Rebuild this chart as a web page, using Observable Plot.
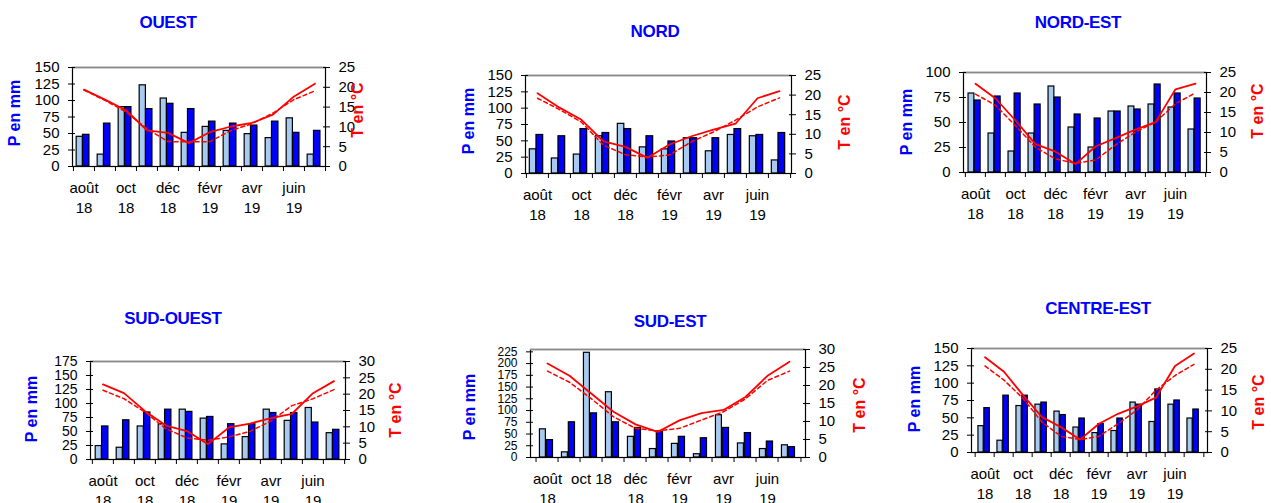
<!DOCTYPE html>
<html><head><meta charset="utf-8">
<script src="https://cdn.jsdelivr.net/npm/d3@7"></script>
<script src="https://cdn.jsdelivr.net/npm/@observablehq/plot@0.6"></script>
<style>
body{margin:0;background:#fff;}
#root{position:relative;width:1271px;height:503px;overflow:hidden;font-family:"Liberation Sans",Arial,sans-serif;background:#fff;}
.title{position:absolute;transform:translate(-50%,-50%);color:#0000ff;font-weight:bold;font-size:17px;white-space:nowrap;letter-spacing:-0.3px;line-height:1;}
.ylab{position:absolute;transform:translate(-50%,-50%) rotate(-90deg);font-weight:bold;font-size:16px;white-space:nowrap;line-height:1;}
svg{position:absolute;}
</style></head><body><div id="root"></div>
<script>
const months = ["août","sept","oct","nov","déc","janv","févr","mars","avr","mai","juin","juil"];
const tickLabels = ["août\n18","","oct\n18","","déc\n18","","févr\n19","","avr\n19","","juin\n19",""];
const tickLabelsSE = ["août\n18","","oct 18","","déc\n18","","févr\n19","","avr\n19","","juin\n19",""];

const ouestLight  = [45,18,90,123,103,51,60,54,49,43,73,18];
const ouestDark   = [48,65,90,87,95,87,68,65,62,68,51,54];
const ouestTSolid = [19.4,16.9,14.2,9.1,8.5,5.9,8.7,10.1,11.0,13.1,17.7,20.9];
const ouestTDash  = [19.3,16.7,13.8,9.5,6.3,6.2,6.3,9.1,10.8,13.5,16.9,19.1];

const nordLight  = [37,23,29,57,76,40,37,54,34,59,57,20];
const nordDark   = [59,57,68,62,68,57,49,54,54,68,59,62];
const nordTSolid = [20.5,16.8,13.7,8.2,6.8,4.0,7.4,9.5,11.2,12.7,19.2,21.0];
const nordTDash  = [19.2,16.3,13.1,7.2,4.8,4.2,4.7,8.1,10.6,13.6,17.0,19.3];

const nordEstLight  = [79,39,21,39,86,45,25,61,66,68,65,43];
const nordEstDark   = [72,76,79,68,75,58,54,61,63,88,79,74];
const nordEstTSolid = [22.2,18.5,13.0,7.1,5.2,2.1,6.5,8.6,10.7,12.6,20.8,22.2];
const nordEstTDash  = [19.6,16.8,11.7,6.3,3.4,2.3,3.1,6.9,10.1,12.6,17.2,19.9];

const sudOuestLight  = [24,21,59,63,89,73,27,40,89,69,92,47];
const sudOuestDark   = [59,70,84,89,85,76,63,63,83,83,66,53];
const sudOuestTSolid = [23.0,20.3,14.8,10.4,8.7,4.7,9.8,11.0,12.7,14.0,20.3,24.0];
const sudOuestTDash  = [21.2,18.6,14.5,9.4,6.6,5.9,6.9,8.6,11.8,16.5,18.6,21.4];

const sudEstLight  = [60,11,223,139,44,18,29,7,90,30,18,26];
const sudEstDark   = [37,75,94,75,63,55,44,41,63,52,34,22];
const sudEstTSolid = [26.1,22.7,17.7,12.7,9.2,7.1,10.3,12.3,13.2,16.8,22.7,26.6];
const sudEstTDash  = [24.0,20.9,16.3,11.3,8.1,7.4,8.1,10.4,12.7,16.3,21.4,24.0];

const centreEstLight  = [38,17,67,69,59,36,28,31,72,44,69,49];
const centreEstDark   = [64,82,82,72,54,49,41,49,69,91,75,62];
const centreEstTSolid = [22.9,19.4,13.8,8.5,6.1,3.1,6.9,9.3,11.1,13.2,20.8,23.8];
const centreEstTDash  = [20.8,17.4,13.0,7.3,3.9,3.1,3.9,6.9,10.2,15.0,18.5,21.2];

const pTicks150 = [0,25,50,75,100,125,150];
const pTicks100 = [0,25,50,75,100];
const pTicks175 = [0,25,50,75,100,125,150,175];
const pTicks225 = [0,25,50,75,100,125,150,175,200,225];
const tTicks25 = [0,5,10,15,20,25];
const tTicks30 = [0,5,10,15,20,25,30];

const panels = [
  {title:"OUEST", light:ouestLight, dark:ouestDark, ts:ouestTSolid, td:ouestTDash, pMax:150, pTicks:pTicks150, tMax:25, tTicks:tTicks25, labels:tickLabels, pFont:15,
   frame:{left:72,right:325,top:67,bottom:166}, titlePos:[168,22], pLab:[15,113], tLab:[358,110]},
  {title:"NORD", light:nordLight, dark:nordDark, ts:nordTSolid, td:nordTDash, pMax:150, pTicks:pTicks150, tMax:25, tTicks:tTicks25, labels:tickLabels, pFont:15,
   frame:{left:525,right:791,top:75,bottom:173}, titlePos:[655,31], pLab:[469,121], tLab:[845,122]},
  {title:"NORD-EST", light:nordEstLight, dark:nordEstDark, ts:nordEstTSolid, td:nordEstTDash, pMax:100, pTicks:pTicks100, tMax:25, tTicks:tTicks25, labels:tickLabels, pFont:15,
   frame:{left:963,right:1206,top:72,bottom:172}, titlePos:[1078,22], pLab:[907,122], tLab:[1258,111]},
  {title:"SUD-OUEST", light:sudOuestLight, dark:sudOuestDark, ts:sudOuestTSolid, td:sudOuestTDash, pMax:175, pTicks:pTicks175, tMax:30, tTicks:tTicks30, labels:tickLabels, pFont:14,
   frame:{left:90,right:345,top:361,bottom:459}, titlePos:[173,318], pLab:[32,409], tLab:[396,410]},
  {title:"SUD-EST", light:sudEstLight, dark:sudEstDark, ts:sudEstTSolid, td:sudEstTDash, pMax:230, pTicks:pTicks225, tMax:30, tTicks:tTicks30, labels:tickLabelsSE, pFont:12,
   frame:{left:530,right:805,top:349,bottom:457}, titlePos:[670,321], pLab:[470,407], tLab:[860,405]},
  {title:"CENTRE-EST", light:centreEstLight, dark:centreEstDark, ts:centreEstTSolid, td:centreEstTDash, pMax:150, pTicks:pTicks150, tMax:25, tTicks:tTicks25, labels:tickLabels, pFont:15,
   frame:{left:971,right:1207,top:348,bottom:452}, titlePos:[1098,308], pLab:[915,399], tLab:[1259,402]}
];

const root = document.getElementById("root");

function addText(cls, text, pos, color) {
  const d = document.createElement("div");
  d.className = cls;
  d.textContent = text;
  d.style.left = pos[0] + "px";
  d.style.top = pos[1] + "px";
  if (color) d.style.color = color;
  root.appendChild(d);
}

function drawPanel(cfg) {
  const mL = 50, mR = 50, mT = 8, mB = 50;
  const W = cfg.frame.right - cfg.frame.left;
  const H = cfg.frame.bottom - cfg.frame.top;
  const bw = W / months.length;
  const k = cfg.pMax / cfg.tMax;
  const rows = months.map((m, i) => ({month: m, light: cfg.light[i], dark: cfg.dark[i], ts: cfg.ts[i] * k, td: cfg.td[i] * k}));
  const labelled = months.filter((m, i) => cfg.labels[i] !== "");
  const fs = 15;
  const chart = Plot.plot({
    width: W + mL + mR,
    height: H + mT + mB,
    marginLeft: mL, marginRight: mR, marginTop: mT, marginBottom: mB,
    style: {fontFamily: '"Liberation Sans", Arial, sans-serif', fontSize: fs + "px", color: "#000", background: "transparent", overflow: "visible"},
    x: {type: "band", domain: months, padding: 0, label: null},
    y: {domain: [0, cfg.pMax], label: null},
    marks: [
      Plot.barY(rows, {x: "month", y: "light", fill: "#A6CAF0", stroke: "#000", strokeWidth: 1.2, insetLeft: 0.15 * bw, insetRight: 0.55 * bw}),
      Plot.barY(rows, {x: "month", y: "dark", fill: "#0000FF", stroke: "#000", strokeWidth: 1.2, insetLeft: 0.45 * bw, insetRight: 0.24 * bw}),
      Plot.line(rows, {x: "month", y: "td", stroke: "#FF0000", strokeWidth: 1.5, strokeDasharray: "4,3"}),
      Plot.line(rows, {x: "month", y: "ts", stroke: "#FF0000", strokeWidth: 1.8}),
      Plot.frame({stroke: "#000", strokeWidth: 1.2}),
      Plot.ruleY([cfg.pMax], {stroke: "#888", strokeWidth: 1.5}),
      Plot.axisY({anchor: "left", ticks: cfg.pTicks, tickSize: 4, tickPadding: 9, fontSize: cfg.pFont, label: null}),
      Plot.axisY({anchor: "left", ticks: cfg.pTicks, tickSize: 3, dx: 3, tickFormat: () => "", label: null}),
      Plot.axisY({anchor: "right", ticks: cfg.tTicks.map(t => t * k), tickSize: 4, tickPadding: 9, fontSize: fs, label: null, tickFormat: d => String(Math.round(d / k))}),
      Plot.axisY({anchor: "right", ticks: cfg.tTicks.map(t => t * k), tickSize: 3, dx: -3, tickFormat: () => "", label: null}),
      Plot.axisX({ticks: months, tickSize: 5, dx: -bw / 2, tickFormat: () => "", label: null}),
      Plot.axisX({ticks: [months[months.length - 1]], tickSize: 5, dx: bw / 2, tickFormat: () => "", label: null}),
      Plot.axisX({ticks: labelled, tickSize: 0, tickPadding: 13, fontSize: fs, lineHeight: 1.3, label: null, tickFormat: m => cfg.labels[months.indexOf(m)]})
    ]
  });
  chart.style.left = (cfg.frame.left - mL) + "px";
  chart.style.top = (cfg.frame.top - mT) + "px";
  root.appendChild(chart);
  addText("title", cfg.title, cfg.titlePos);
  addText("ylab", "P en mm", cfg.pLab, "#0000FF");
  addText("ylab", "T en °C", cfg.tLab, "#FF0000");
}

panels.forEach(drawPanel);
</script>
</body></html>
